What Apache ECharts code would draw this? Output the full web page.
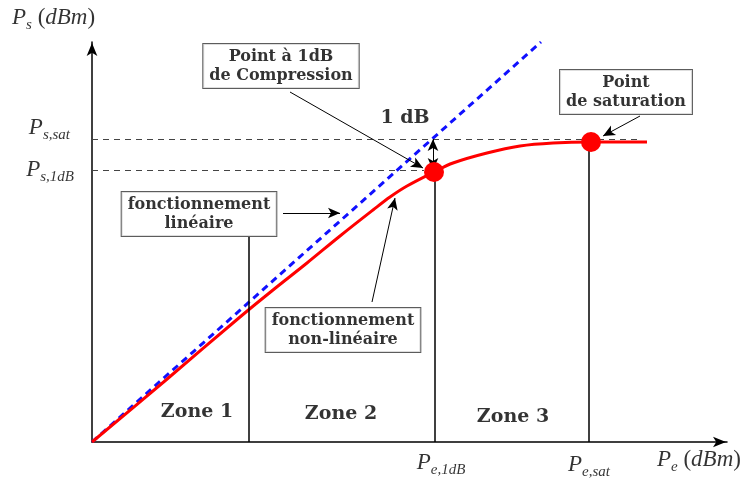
<!DOCTYPE html>
<html>
<head>
<meta charset="UTF-8">
<title>Compression à 1dB</title>
<script src="https://cdn.jsdelivr.net/npm/echarts@6/dist/echarts.min.js"></script>
<style>
    html, body { margin: 0; padding: 0; background: #fff; }
    #container { width: 748px; height: 482px; }
</style>
</head>
<body>
<div id="container"></div>
<script>
    // axis extents (arbitrary dBm-like units)
    var xMax = 635;
    var yMax = 400;

    // ideal linear gain line
    var linearGain = [[0, 0], [449, 400]];
    // real amplifier response
    var response = [[0, 0], [74, 62], [148, 125], [181, 152], [215, 179], [248, 206], [281, 232], [298, 245],
        [315, 256], [342, 270], [361, 279], [395, 289], [428, 296], [461, 299], [499, 300], [555, 300]];

    var point1dB = [342, 270];
    var pointSat = [499, 300];
    var levelSat = 303;
    var level1dB = 272;
    var satDashEnd = 548;
    var zone1Edge = [157, 205];   // x, top of the zone 1 / zone 2 separator

    var zoneNames = ['Zone 1', 'Zone 2', 'Zone 3'];
    var zoneX = [105, 249, 421];
    var zoneY = [30, 28, 25];

    // annotation boxes: text, anchor, arrow start, arrow end
    var boxTexts = ['Point à 1dB\nde Compression', 'Point\nde saturation', 'fonctionnement\nlinéaire', 'fonctionnement\nnon-linéaire'];
    var boxAt = [[189, 376], [534, 350], [107, 228], [251, 112]];
    var arrowFrom = [[198, 350], [548, 326], [191, 229], [280, 140]];
    var arrowTo = [[331, 274], [511, 306], [248, 229], [303, 244]];

    var serif = 'DejaVu Serif';
    var mathFont = 'Liberation Serif';

    var mk = function (sub) {
        return '{p|P}{s|' + sub + '}';
    };
    var mathRich = {
        p: { fontFamily: mathFont, fontStyle: 'italic', fontSize: 23, color: '#000', verticalAlign: 'top', lineHeight: 24 },
        s: { fontFamily: mathFont, fontStyle: 'italic', fontSize: 15, color: '#000', verticalAlign: 'top', lineHeight: 16, padding: [12, 0, 0, 0] },
        r: { fontFamily: mathFont, fontSize: 23, color: '#000', verticalAlign: 'top', lineHeight: 24 },
        i: { fontFamily: mathFont, fontStyle: 'italic', fontSize: 23, color: '#000', verticalAlign: 'top', lineHeight: 24 }
    };

    var axisTexts = [
        { value: [-80, 424], text: mk('s') + '{r| (}{i|dBm}{r|)}', align: 'left' },
        { value: [-22, 314], text: mk('s,sat'), align: 'right' },
        { value: [-18, 272], text: mk('s,1dB'), align: 'right' },
        { value: [349, -21], text: mk('e,1dB'), align: 'center' },
        { value: [497, -23], text: mk('e,sat'), align: 'center' },
        { value: [565, -18], text: mk('e') + '{r| (}{i|dBm}{r|)}', align: 'left' }
    ];

    var mycharts = echarts.init(document.getElementById('container'));

    var boxData = boxTexts.map(function (t, i) {
        return { value: boxAt[i], label: { formatter: t } };
    });
    var arrows = arrowFrom.map(function (f, i) {
        return [{ coord: f }, { coord: arrowTo[i] }];
    });

    var axisLineStyle = { show: true, symbol: ['none', 'arrow'], symbolSize: [8, 13], symbolOffset: [0, -1], lineStyle: { color: '#000', width: 1.5 } };

    var option = {
        animation: false,
        grid: { left: 92, right: 21, top: 42, bottom: 40 },
        xAxis: {
            type: 'value', min: 0, max: xMax,
            axisLine: axisLineStyle,
            axisTick: { show: false }, axisLabel: { show: false }, splitLine: { show: false }
        },
        yAxis: {
            type: 'value', min: 0, max: yMax,
            axisLine: axisLineStyle,
            axisTick: { show: false }, axisLabel: { show: false }, splitLine: { show: false }
        },
        series: [
            {
                // guide lines
                type: 'line', data: [], silent: true,
                markLine: {
                    silent: true, symbol: 'none', label: { show: false },
                    lineStyle: { color: '#444', width: 1, type: [6, 5] },
                    data: [
                        [{ coord: [0, levelSat] }, { coord: [satDashEnd, levelSat] }],
                        [{ coord: [0, level1dB] }, { coord: [point1dB[0] - 10, level1dB] }]
                    ]
                }
            },
            {
                type: 'line', data: [], silent: true,
                markLine: {
                    silent: true, symbol: 'none', label: { show: false },
                    lineStyle: { color: '#000', width: 1.5, type: 'solid' },
                    data: [
                        [{ coord: [zone1Edge[0], 0] }, { coord: [zone1Edge[0], zone1Edge[1]] }],
                        [{ coord: [point1dB[0] + 1, 0] }, { coord: [point1dB[0] + 1, point1dB[1]] }],
                        [{ coord: [pointSat[0] - 2, 0] }, { coord: [pointSat[0] - 2, pointSat[1]] }]
                    ]
                }
            },
            {
                name: 'linéaire', type: 'line', data: linearGain, symbol: 'none', z: 3,
                lineStyle: { color: '#1010ff', width: 3, type: [7, 5] }
            },
            {
                name: 'réel', type: 'line', data: response, symbol: 'none', smooth: 0.35, z: 4,
                lineStyle: { color: '#ff0000', width: 3 }
            },
            {
                type: 'scatter', data: [point1dB, pointSat], symbolSize: 20, z: 5,
                itemStyle: { color: '#ff0000', opacity: 1 }
            },
            {
                // arrows
                type: 'line', data: [], silent: true,
                markLine: {
                    silent: true, symbol: ['none', 'arrow'], symbolSize: [8, 12], label: { show: false },
                    lineStyle: { color: '#000', width: 1, type: 'solid' },
                    data: arrows.concat([
                        [{ coord: [point1dB[0] - 1, levelSat], symbol: 'arrow' }, { coord: [point1dB[0] - 1, point1dB[1] + 2] }]
                    ])
                }
            },
            {
                // annotation boxes
                type: 'scatter', symbolSize: 0, data: boxData, clip: false, z: 6,
                label: {
                    show: true, position: 'inside', fontFamily: serif, fontWeight: 'bold', fontSize: 16,
                    color: '#000', lineHeight: 19, align: 'center', backgroundColor: '#fff',
                    borderColor: '#333', borderWidth: 1, padding: [4, 6, 2, 6]
                }
            },
            {
                // zones and "1 dB"
                type: 'scatter', symbolSize: 0, clip: false, z: 6,
                data: zoneNames.map(function (n, i) { return { value: [zoneX[i], zoneY[i]], label: { formatter: n } }; })
                    .concat([{ value: [313, 324], label: { formatter: '1 dB' } }]),
                label: { show: true, position: 'inside', fontFamily: serif, fontWeight: 'bold', fontSize: 19, color: '#000' }
            },
            {
                // axis names and tick marks text
                type: 'scatter', symbolSize: 0, clip: false, z: 6,
                data: axisTexts.map(function (a) {
                    return { value: a.value, label: { formatter: a.text, align: a.align } };
                }),
                label: { show: true, position: 'inside', verticalAlign: 'middle', rich: mathRich }
            }
        ]
    };

    mycharts.setOption(option);
</script>
</body>
</html>
